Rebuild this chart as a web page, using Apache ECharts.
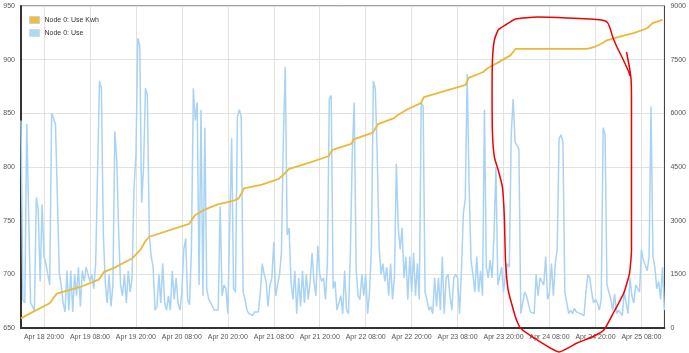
<!DOCTYPE html>
<html>
<head>
<meta charset="utf-8">
<script src="https://cdn.jsdelivr.net/npm/echarts@6/dist/echarts.min.js"></script>
<style>
  html, body { margin: 0; padding: 0; background: #fff; }
  #chart { width: 689px; height: 353px; }
</style>
</head>
<body>
<div id="chart"></div>
<script>
// hours are counted from Apr 18 14:00
const xTickHours = [6, 18, 30, 42, 54, 66, 78, 90, 102, 114, 126, 138, 150, 162];
const xTickLabels = ["Apr 18 20:00", "Apr 19 08:00", "Apr 19 20:00", "Apr 20 08:00", "Apr 20 20:00",
  "Apr 21 08:00", "Apr 21 20:00", "Apr 22 08:00", "Apr 22 20:00", "Apr 23 08:00",
  "Apr 23 20:00", "Apr 24 08:00", "Apr 24 20:00", "Apr 25 08:00"];

// Node 0: Use Kwh (left axis)
const kwhHours = [0, 3.1, 7.5, 9.3, 15.3, 20.3, 21.6, 24.9, 29.1, 31.2, 32.5, 33.5, 43.9, 45.4, 47.8,
  51.2, 55.8, 56.9, 58.2, 62.9, 67.3, 68.3, 69.9, 75.3, 80.3, 81.3, 86.2, 87.0, 91.9, 93.2, 97.4,
  98.4, 101.0, 104.4, 105.2, 116.1, 116.9, 120.7, 121.8, 124.4, 127.8, 129.1, 147.8, 149.8, 151.9,
  152.9, 156.8, 160.2, 163.6, 164.9, 167.5];
const kwhValues = [659, 665, 673, 682, 688, 695, 702, 707, 715, 723, 731, 735, 747, 755, 760,
  765, 769, 771, 780, 783.5, 789, 792, 798, 804, 810, 816, 821.5, 826, 832, 840, 845.5,
  848.5, 854, 859.5, 865, 876.5, 883, 888.5, 892, 897, 904, 910, 910, 912, 915.5,
  918, 922, 925, 929.5, 934, 937];

// Node 0: Use (right axis), one reading every half hour
const useValues = [
  5800, 780, 700, 5700, 5750, 700, 650, 500, 3650, 3300, 1300, 3450, 2000, 1800, 1500, 1200,
  6000, 6050, 5700, 5650, 1540, 1200, 700, 450, 1600, 500, 1600, 450, 1500, 900, 1700, 600,
  1600, 1300, 1700, 1500, 1300, 1500, 1100, 1800, 4400, 6900, 6700, 2600, 1300, 700, 1500, 600,
  1200, 5500, 4700, 2700, 1200, 900, 1500, 700, 1600, 1000, 1400, 3900, 4800, 8100, 7900, 3500,
  4500, 6700, 6500, 2600, 2000, 1700, 500, 600, 1500, 700, 1800, 700, 500, 900, 500, 1600,
  800, 1400, 700, 500, 1000, 2200, 2500, 800, 650, 2200, 6700, 5800, 6300, 1200, 6100, 900,
  5600, 1100, 800, 700, 650, 500, 450, 500, 3400, 900, 1200, 1100, 400, 450, 5300, 1100,
  1000, 5900, 6100, 5900, 1000, 800, 500, 400, 450, 350, 450, 400, 450, 1000, 1800, 1500,
  1300, 600, 1200, 1400, 2400, 900, 900, 1500, 2100, 5300, 7300, 2600, 2800, 1300, 800, 1600,
  400, 1400, 600, 1600, 700, 1500, 800, 1300, 2100, 1300, 900, 2300, 1500, 1300, 1400, 800,
  1800, 6400, 6500, 1100, 1300, 500, 450, 900, 400, 1600, 500, 400, 2100, 4900, 6300, 1700,
  900, 800, 1500, 900, 1500, 400, 1000, 2300, 6900, 6700, 4900, 2300, 1500, 1800, 1300, 1700,
  900, 1800, 800, 1400, 4600, 2800, 2200, 2800, 1400, 2000, 800, 2000, 1000, 2100, 900, 1800,
  800, 6300, 6200, 1000, 800, 500, 600, 400, 1400, 600, 1400, 500, 2000, 400, 1400, 1500,
  900, 500, 1400, 1500, 1400, 400, 1600, 3200, 3600, 7100, 4000, 1900, 1500, 1000, 2000, 1000,
  1600, 900, 6100, 1700, 1400, 1900, 1400, 2600, 4500, 1200, 1200, 1700, 1000, 1500, 1800, 1700,
  5400, 6400, 5200, 5200, 5000, 400, 450, 1000, 900, 900, 450, 400, 400, 1500, 900, 1400,
  1400, 1200, 2000, 800, 1000, 1800, 900, 1800, 2200, 5300, 5400, 5200, 1000, 700, 400, 500,
  400, 550, 450, 500, 400, 400, 350, 1000, 1500, 1400, 1000, 700, 800, 700, 500, 800,
  5600, 5400, 1200, 1200, 800, 500, 950, 400, 500, 450, 350, 1000, 1000, 400, 1400, 900,
  700, 1200, 1100, 1000, 2200, 1900, 1900, 1600, 2000, 6200, 2000, 1700, 1100, 1300, 800, 1700,
  500
];

// hand-drawn red loop, in (hour, right-axis value)
const markHours = [158.1, 158.9, 159.3, 159.4, 159.4, 159.4, 158.9, 157.4, 154.8, 152.2, 149.1, 145.2,
  140.5, 134.8, 130.4, 129.1, 127.2, 126.5, 126.2, 125.7, 124.6, 123.6, 123.1, 123.0, 123.1, 123.6,
  124.6, 126.5, 129.1, 134.8, 142.6, 151.6, 153.0, 153.7, 154.5, 155.6, 156.9, 158.7, 159.0];
const markValues = [7714, 7267, 6932, 6373, 3578, 2180, 1537, 978, 447, -56, -252, -419,
  -671, -335, 0, 307, 1062, 1901, 3102, 3941, 4416, 4779, 5450, 6568, 7491, 8050,
  8329, 8469, 8637, 8692, 8665, 8609, 8553, 8413, 8134, 7854, 7574, 7155, 7043];

const kwhData = kwhHours.map((h, i) => [h, kwhValues[i]]);
const useData = useValues.map((v, i) => [i * 0.5, v]);
const markData = markHours.map((h, i) => [h, markValues[i]]);

const labelStyle = { color: "#555", fontSize: 7, fontFamily: "Liberation Sans, Arial, sans-serif" };

const chart = echarts.init(document.getElementById("chart"), null, { renderer: "canvas" });
chart.setOption({
  animation: false,
  grid: { left: 21, right: 21, top: 6, bottom: 25, show: true, borderColor: "#444", borderWidth: 1 },
  legend: {
    orient: "vertical",
    left: 24,
    top: 11,
    itemWidth: 10,
    itemHeight: 7,
    itemGap: 5,
    textStyle: { color: "#333", fontSize: 7, fontFamily: "Liberation Sans, Arial, sans-serif" },
    data: [
      { name: "Node 0: Use Kwh", icon: "rect", itemStyle: { color: "#efbe3e", borderColor: "#cfcfcf", borderWidth: 1 } },
      { name: "Node 0: Use", icon: "rect", itemStyle: { color: "#afd7f6", borderColor: "#d8d8d8", borderWidth: 1 } },
    ],
  },
  xAxis: {
    type: "value",
    min: 0,
    max: 168,
    axisLine: { lineStyle: { color: "#333", width: 2 } },
    axisTick: { show: false, customValues: xTickHours },
    axisLabel: {
      ...labelStyle,
      margin: 6,
      customValues: xTickHours,
      formatter: (v) => xTickLabels[xTickHours.indexOf(v)] || "",
    },
    splitLine: { show: true, lineStyle: { color: "#e2e2e2" } },
  },
  yAxis: [
    {
      type: "value",
      min: 650,
      max: 950,
      interval: 50,
      axisLine: { show: true, lineStyle: { color: "#333", width: 2 } },
      axisTick: { show: false },
      axisLabel: { ...labelStyle, margin: 6 },
      splitLine: { lineStyle: { color: "#e2e2e2" } },
    },
    {
      type: "value",
      min: 0,
      max: 9000,
      interval: 1500,
      position: "right",
      axisLine: { show: true, lineStyle: { color: "#444", width: 1 } },
      axisTick: { show: false },
      axisLabel: { ...labelStyle, margin: 6, formatter: (v) => String(v) },
      splitLine: { show: false },
    },
  ],
  series: [
    {
      name: "Node 0: Use",
      type: "line",
      yAxisIndex: 1,
      showSymbol: false,
      data: useData,
      lineStyle: { color: "#a9d3f4", width: 1.5 },
      itemStyle: { color: "#afd7f6" },
    },
    {
      name: "Node 0: Use Kwh",
      type: "line",
      showSymbol: false,
      data: kwhData,
      lineStyle: { color: "#ebb93a", width: 1.8 },
      itemStyle: { color: "#efbe3e" },
    },
    {
      name: "mark",
      type: "line",
      yAxisIndex: 1,
      smooth: 0.15,
      showSymbol: false,
      clip: false,
      silent: true,
      data: markData,
      lineStyle: { color: "#f00000", width: 1.5 },
    },
  ],
});
</script>
</body>
</html>
